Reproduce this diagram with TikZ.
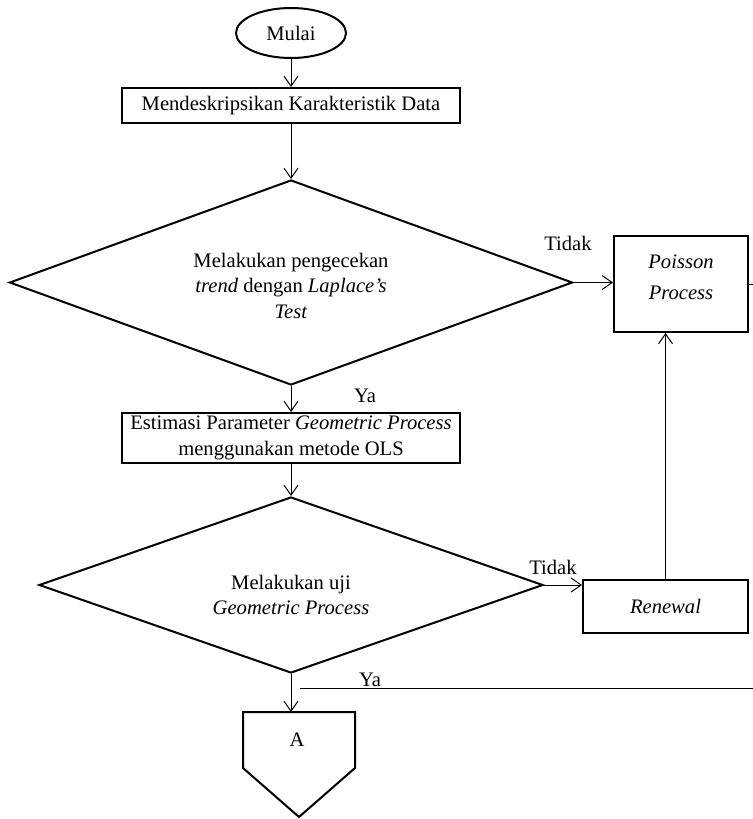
\documentclass[tikz,border=0pt]{standalone}
\usepackage{fontspec}
\setmainfont{Liberation Serif}
\usepackage{tikz}
\usetikzlibrary{shapes.geometric,arrows.meta}
\newcommand{\geser}[2]{\raisebox{#1}[\height][\depth]{\begin{tabular}{@{}c@{}}#2\end{tabular}}}

\begin{document}
\begin{tikzpicture}[x=0.5pt, y=-0.5pt,
    font=\fontsize{10.3}{12.8}\selectfont,
    box/.style={draw, line width=1pt, align=center, inner sep=1pt},
    decision/.style={draw, diamond, line width=1pt, align=center, inner sep=0pt},
    flow/.style={-{Straight Barb[length=5pt, width=7pt]}, line width=0.5pt}]
    \useasboundingbox (0,0) rectangle (753,819);
    \node[box, ellipse, minimum width=55pt, minimum height=25pt] (mulai) at (291,33) {Mulai};
    \node[box, minimum width=169pt, minimum height=17.5pt] (deskripsi) at (291,105.5) {Mendeskripsikan Karakteristik Data};
    \node[decision, aspect=2.75, minimum width=281.5pt, minimum height=102.5pt] (laplace) at (291,282.5) {\geser{-2.5pt}{Melakukan pengecekan\\\textit{trend} dengan \textit{Laplace's}\\\textit{Test}}};
    \node[box, minimum width=67pt, minimum height=48pt] (poisson) at (681,284) {\geser{2.5pt}{\textit{Poisson}\\[2.5pt]\textit{Process}}};
    \node[box, minimum width=169pt, minimum height=25pt] (estimasi) at (291,438) {Estimasi Parameter \textit{Geometric Process}\\menggunakan metode OLS};
    \node[decision, aspect=2.86, minimum width=252pt, minimum height=88pt] (ujigp) at (291,585) {\geser{-6pt}{Melakukan uji\\\textit{Geometric Process}}};
    \node[box, minimum width=82.5pt, minimum height=26.5pt] (renewal) at (665.5,606.5) {\textit{Renewal}};
    \node (offa) at (297,740) {A};
    \draw[line width=1pt] (243,712) -- (355,712) -- (355,768) -- (299,817) -- (243,768) -- cycle;
    \coordinate (tujuanA) at (297,712);
    \coordinate (ujungP) at (753,284);
    \coordinate (mulaiYa) at (300,688);
    \coordinate (ujungYa) at (753,688);
    \node (tidak1) at (568,243) {Tidak};
    \node (ya1) at (365,396) {Ya};
    \node (tidak2) at (553,567) {Tidak};
    \node (ya2) at (370,680) {Ya};
    \draw[flow] (mulai) -- (deskripsi);
    \draw[flow] (deskripsi) -- (laplace);
    \draw[flow] (laplace.east) -- (laplace.east -| poisson.west);
    \draw[line width=0.5pt] (poisson.east) -- (ujungP);
    \draw[flow] (laplace) -- (estimasi);
    \draw[flow] (estimasi) -- (ujigp);
    \draw[flow] (ujigp.east) -- (ujigp.east -| renewal.west);
    \draw[flow] (renewal.north) -- (renewal.north |- poisson.south);
    \draw[flow] (ujigp.south) -- (ujigp.south |- tujuanA);
    \draw[line width=0.5pt] (mulaiYa) -- (ujungYa);
\end{tikzpicture}
\end{document}
